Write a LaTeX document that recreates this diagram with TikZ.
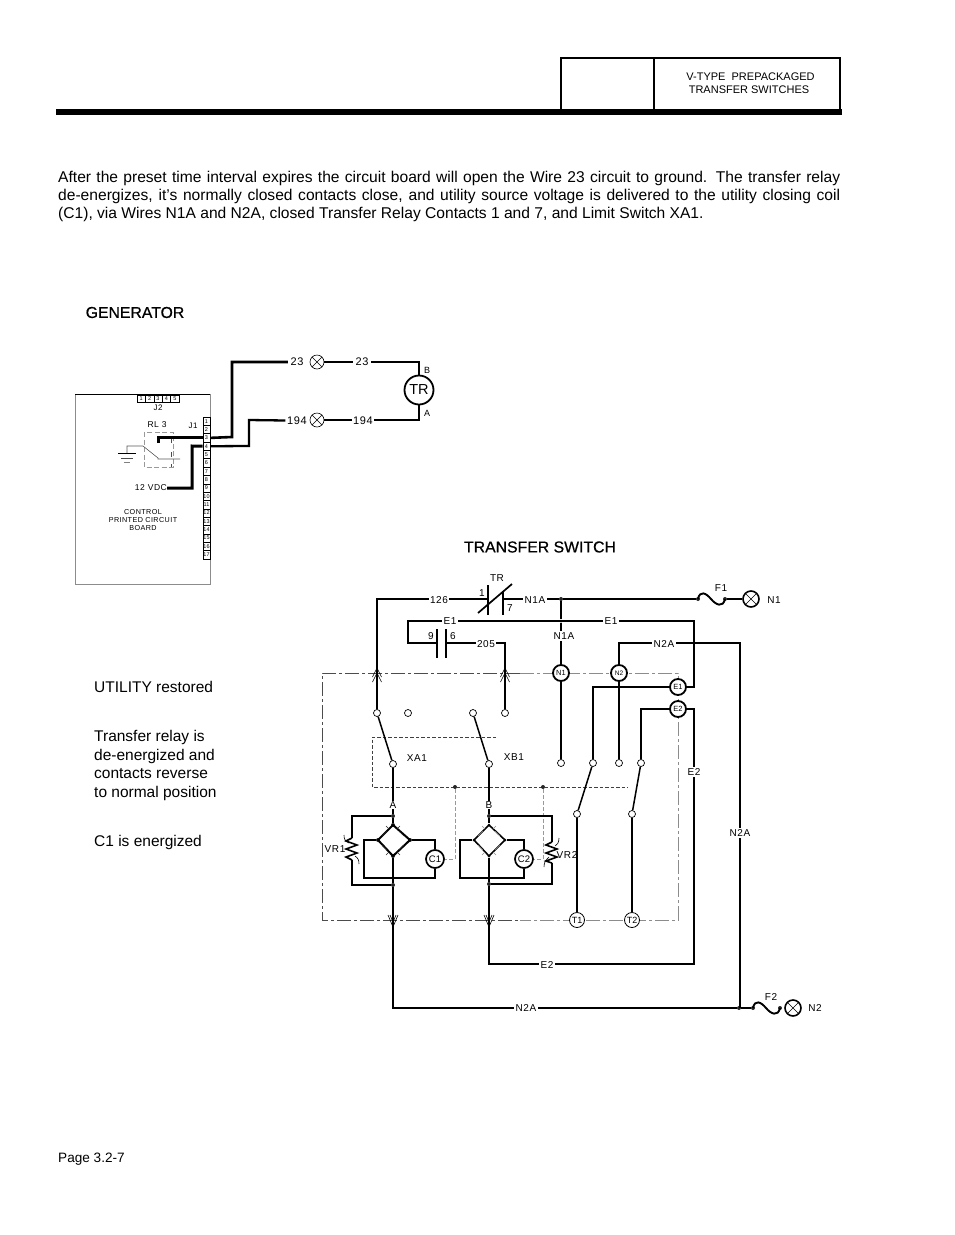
\documentclass[tikz,border=0pt]{standalone}
\usepackage{fontspec}
\setmainfont{Liberation Sans}
\newfontfamily\cad[LetterSpace=6]{Liberation Sans}
\newfontfamily\headf[FakeBold=0.6]{Liberation Sans}
\tikzset{
  wire/.style={line width=1.8pt},
  gwire/.style={line width=2.3pt},
  thinl/.style={line width=.7pt},
  lab/.style={font=\cad\fontsize{10}{10}\selectfont,fill=white,inner sep=1.2pt},
  labn/.style={font=\cad\fontsize{10}{10}\selectfont,inner sep=0pt},
  tiny8/.style={font=\cad\fontsize{8}{8}\selectfont,inner sep=0pt},
  contact/.style={circle,draw,fill=white,minimum size=7pt,inner sep=0pt,line width=.7pt},
  term/.style={circle,draw,fill=white,line width=1.8pt,minimum size=16pt,inner sep=0pt,font=\fontsize{7.5}{8}\selectfont},
  tterm/.style={circle,draw,fill=white,line width=.8pt,minimum size=15pt,inner sep=0pt,font=\fontsize{9}{9}\selectfont},
  jdot/.style={circle,fill=black!85,minimum size=4pt,inner sep=0pt},
  lamp/.style={circle,draw,fill=white,minimum size=#1,inner sep=0pt,path picture={
     \draw[line width=.6pt] (path picture bounding box.north west)--(path picture bounding box.south east)
       (path picture bounding box.north east)--(path picture bounding box.south west);}},
  cell/.style={rectangle,draw,fill=white,line width=.6pt,inner sep=0pt,font=\fontsize{5.5}{6}\selectfont},
  outerdash/.style={line width=.8pt,black!70,dash pattern=on 14pt off 3pt on 3pt off 3pt},
  outergray/.style={line width=.8pt,black!45,dash pattern=on 14pt off 3pt on 3pt off 3pt},
  innerdash/.style={line width=.6pt,black!75,dash pattern=on 3.5pt off 2pt},
  graydash/.style={line width=1pt,black!40,dash pattern=on 3.5pt off 2.5pt},
  head/.style={font=\headf\fontsize{15.8}{16}\selectfont,inner sep=0pt},
  side/.style={font=\fontsize{15.5}{18.6}\selectfont,inner sep=0pt,anchor=base west},
  para/.style={font=\fontsize{15.6}{18}\selectfont,inner sep=0pt,anchor=base west},
  chev/.style={line width=.6pt},
  biglab/.style={lab,font=\cad\fontsize{11}{11}\selectfont},
}
\begin{document}
\begin{tikzpicture}[x=1pt,y=-1pt]
\useasboundingbox (0,0) rectangle (954,1235);
% header
\node[draw,line width=1.4pt,minimum width=93pt,minimum height=52pt,inner sep=0pt] (hb1) at (607.5,84) {};
\node[draw,line width=1.4pt,minimum width=186pt,minimum height=52pt,inner sep=0pt] (hb2) at (747,84) {};
\node[font=\fontsize{11}{13}\selectfont,inner sep=0pt] (ht1) at (750.5,77) {V-TYPE\ \ PREPACKAGED};
\node[font=\fontsize{11}{13}\selectfont,inner sep=0pt] (ht2) at (749,90) {TRANSFER SWITCHES};
\fill (56,109) rectangle (842,115);
% paragraph
\node[para] (p1) at (58,182) {\hbox to 782pt{After the preset time interval expires the circuit board will open the Wire 23 circuit to ground. The transfer relay}};
\node[para] (p2) at (58,200) {\hbox to 782pt{de-energizes, it’s normally closed contacts close, and utility source voltage is delivered to the utility closing coil}};
\node[para] (p3) at (58,218) {(C1), via Wires N1A and N2A, closed Transfer Relay Contacts 1 and 7, and Limit Switch XA1.};
\node[head] (hgen) at (135,312.5) {GENERATOR};
\node[head] (hts) at (540,547) {TRANSFER SWITCH};
\node[side] (s1) at (94,692) {UTILITY restored};
\node[side] (s2) at (94,741) {Transfer relay is};
\node[side] (s3) at (94,760) {de-energized and};
\node[side] (s4) at (94,778.5) {contacts reverse};
\node[side] (s5) at (94,797) {to normal position};
\node[side] (s6) at (94,846) {C1 is energized};
\node[para,font=\fontsize{13.6}{14}\selectfont] (pg) at (58,1162) {Page 3.2-7};

% ===== control board
\draw[line width=.9pt,black!45] (75,394) -- (75,584) -- (210,584) -- (210,394);
\draw[line width=.9pt] (75,394) -- (210,394);
\foreach \i in {1,...,5}{
  \node[cell,minimum width=8.4pt,minimum height=7pt] (j2-\i) at ({137+8.4*(\i-.5)},398.5) {\i};
}
\foreach \i in {1,...,17}{
  \node[cell,minimum width=7pt,minimum height=8.35pt] (j1-\i) at (206.5,{417+8.35*(\i-.5)}) {\i};
}
\node[tiny8] (lj2) at (158,408) {J2};
\node[tiny8] (lj1) at (193,426) {J1};
\node[labn,font=\cad\fontsize{8.5}{9}\selectfont] (lrl) at (157,425) {RL 3};
\node[labn,font=\cad\fontsize{8.5}{9}\selectfont,anchor=east] (l12) at (167,488) {12 VDC};
\node[tiny8,font=\cad\fontsize{7.2}{8.4}\selectfont,align=center,inner sep=0pt] (lctl) at (143,520) {CONTROL\\PRINTED CIRCUIT\\BOARD};
\draw[line width=.8pt,black!40,dash pattern=on 5pt off 2.5pt] (144,432) rectangle (173,467);
\coordinate (gnd) at (127,446);
\draw[line width=.6pt,black!65] (127,453) -- (gnd) -- (143,446) -- (158,458) -- (158,459) -- (180,459);
\draw[line width=.9pt] (118,453) -- (136,453);
\draw[line width=.7pt,black!70] (121,458) -- (133,458);
\draw[line width=.7pt,black!50] (124,462) -- (130,462);
\draw[line width=.7pt,black!70] (171,439) -- +(0,4) (171,452) -- +(0,5) (171,464) -- +(0,3);
% coil and lamps
\node[circle,draw,line width=1.8pt,minimum size=29pt,inner sep=0pt,font=\fontsize{14.5}{15}\selectfont] (tr) at (419,390) {TR};
\node[lamp=14pt,line width=.6pt] (la23) at (317,362) {};
\node[lamp=14pt,line width=.6pt] (la194) at (317,420) {};
\node[labn,font=\cad\fontsize{9}{9}\selectfont] (lb) at (427,370) {B};
\node[labn,font=\cad\fontsize{9}{9}\selectfont] (la) at (427,413) {A};
\node[biglab,inner sep=2.5pt] (l23a) at (297,362) {23};
\node[biglab,inner sep=1.5pt] (l194a) at (297,420.5) {194};
\draw[gwire,line width=3pt] (158,443) |- (j1-3.west);
\draw[gwire,line width=2.6pt] (j1-3.east) -- (232,437) -- (232,362) -- (l23a.west);
\draw[gwire] (la23.east) -- (419,362) -- (tr.north);
\draw[gwire] (tr.south) -- (419,420) -- (la194.east);
\draw[gwire] (l194a.west) -- (249,420) -- (249,446) -- (j1-4.east);
\draw[gwire,line width=3pt] (j1-4.west) -- (192,446) -- (192,488) -- (l12.east);
\node[biglab,inner sep=2.5pt] (l23b) at (362,362) {23};
\node[biglab,inner sep=1.5pt] (l194b) at (363,420.5) {194};

% ===== transfer switch enclosures
\draw[outerdash] (520,673) -- (322,673) -- (322,920) -- (520,920);
\draw[outergray] (520,673) -- (678,673) -- (678,920) -- (520,920);
\draw[innerdash] (496,737) -- (372,737) -- (372,787) -- (628,787);
% contacts
\node[contact] (c1a) at (377,713) {};
\node[contact] (c1b) at (408,713) {};
\node[contact] (c1c) at (473,713) {};
\node[contact] (c1d) at (505,713) {};
\node[contact] (xa) at (393,764) {};
\node[contact] (xb) at (489,764) {};
\node[contact] (c2a) at (561,763) {};
\node[contact] (c2b) at (593,763) {};
\node[contact] (c2c) at (619,763) {};
\node[contact] (c2d) at (641,763) {};
\node[contact] (t1c) at (577,814) {};
\node[contact] (t2c) at (632,814) {};
\node[term] (n1) at (561,673) {N1};
\node[term,font=\fontsize{6.5}{7}\selectfont] (n2) at (619,673) {N2};
\node[term] (e1) at (678,687) {E1};
\node[term] (e2) at (678,709) {E2};
\node[tterm] (t1) at (577,920) {T1};
\node[tterm] (t2) at (632,920) {T2};
\node[jdot] (d1) at (561,599) {};
\node[jdot,minimum size=3pt] (dE) at (561,621) {};
\node[jdot] (fa) at (698,599) {};
\node[jdot] (fb) at (725,599) {};
\node[lamp=16pt,line width=1.6pt] (ln1) at (751,599) {};
\node[jdot] (fc) at (753,1008) {};
\node[jdot] (fd) at (780,1008) {};
\node[lamp=16pt,line width=1.6pt] (ln2) at (793,1008) {};
\node[jdot] (d2) at (739,1008) {};
\node[jdot] (dg1) at (455,787) {};
\node[jdot] (dg2) at (543,787) {};
\node[jdot] (ta) at (393,816) {};
\node[jdot] (tb) at (489,816) {};
\node[jdot] (ba) at (393,885) {};
\node[jdot] (bb) at (489,884) {};
% bridges
\node[jdot] (b1n) at (393,825) {};
\node[jdot] (b1s) at (393,856) {};
\node[jdot] (b1w) at (378,840) {};
\node[jdot] (b1e) at (410,840) {};
\node[jdot,minimum size=3pt] (b2n) at (489,825) {};
\node[jdot,minimum size=3pt] (b2s) at (489,856) {};
\node[jdot,minimum size=3pt] (b2w) at (474,840) {};
\node[jdot,minimum size=3pt] (b2e) at (505,840) {};
\draw[line width=2pt,line join=miter] (b1n.center) -- (b1e.center) -- (b1s.center) -- (b1w.center) -- cycle;
\draw[line width=1.6pt,line join=miter] (b2n.center) -- (b2e.center) -- (b2s.center) -- (b2w.center) -- cycle;
\foreach \cx/\lc in {393/black!85,489/black!45}{
  \draw[line width=.6pt,\lc] (\cx-11,836) -- +(5,-5) (\cx-4,829) -- +(-3,-3)
     (\cx+11,836) -- +(-5,-5) (\cx+4,829) -- +(3,-3)
     (\cx-11,845) -- +(5,5) (\cx-4,852) -- +(-3,3)
     (\cx+11,845) -- +(-5,5) (\cx+4,852) -- +(3,3);
}
\node[circle,draw,fill=white,line width=1.7pt,minimum size=18pt,inner sep=0pt,font=\fontsize{9.5}{10}\selectfont] (coil1) at (435,859) {C1};
\node[circle,draw,fill=white,line width=1.7pt,minimum size=18pt,inner sep=0pt,font=\fontsize{9.5}{10}\selectfont] (coil2) at (524,859) {C2};
% gray control leads
\draw[graydash] (dg1) -- (455,859) -- (coil1.east);
\draw[graydash] (dg2) -- (543,859) -- (coil2.east);
% blades
\draw[line width=1.5pt] (c1a) -- (xa);
\draw[line width=1.5pt] (c1c) -- (xb);
\draw[line width=1.5pt] (c2b) -- (t1c);
\draw[line width=1.5pt] (c2d) -- (t2c);
% contactor symbols
\coordinate (p1a) at (488,599);
\coordinate (p1b) at (503,599);
\draw[wire,line width=1.7pt] (488,585) -- (488,615) (503,591) -- (503,615);
\draw[wire,line width=1.7pt] (478,613) -- (512,584);
\draw[wire,line width=1.9pt] (437,629) -- (437,658) (446,629) -- (446,658);
% wires
\draw[wire] (c1a) -- (377,599) -- (p1a);
\draw[wire] (p1b) -- (d1);
\draw[wire] (d1) -- (fa);
\draw[wire] (d1) -- (dE) -- (n1);
\draw[wire] (n1) -- (c2a);
\draw[wire] (fb) -- (ln1);
\draw[line width=1.9pt] (fa.center) .. controls +(2,-9) and +(-5,-6) .. (711,599) .. controls +(5,6) and +(-2,9) .. (fb.center);
\draw[wire] (442,621) -- (408,621) -- (408,643) -- (437,643);
\draw[wire] (442,621) -- (694,621) -- (694,687) -- (e1);
\draw[wire] (446,643) -- (505,643) -- (c1d);
\draw[wire] (n2) -- (619,643) -- (740,643) -- (740,1008);
\draw[wire] (n2) -- (c2c);
\draw[wire] (e1) -- (593,687) -- (c2b);
\draw[wire] (e2) -- (641,709) -- (c2d);
\draw[wire] (e2) -- (694,709) -- (694,964) -- (489,964) -- (489,927);
\draw[wire] (t1c) -- (t1);
\draw[wire] (t2c) -- (t2);
\draw[wire] (xa) -- (ta) -- (b1n);
\draw[wire] (xb) -- (tb) -- (b2n);
\draw[wire] (ta) -- (352,816) -- (352,838);
\draw[wire] (352,860) -- (352,885) -- (ba);
\draw[wire] (tb) -- (552,816) -- (552,842);
\draw[wire] (552,863) -- (552,884) -- (bb);
\draw[line width=1.9pt] (b1s) -- (ba) -- (393,1008) -- (d2) -- (fc);
\draw[line width=1.8pt] (b2s) -- (bb) -- (489,927);
\draw[line width=1.9pt] (fc.center) .. controls +(2,-9) and +(-5,-6) .. (766,1008) .. controls +(5,6) and +(-2,9) .. (fd.center);
\draw[wire] (b1e) -- (coil1 |- b1e) -- (coil1.north);
\draw[wire] (b1w) -- (364,840) -- (364,878) -- (435,878) -- (coil1.south);
\draw[wire] (b2e) -- (coil2 |- b2e) -- (coil2.north);
\draw[wire] (b2w) -- (460,840) -- (460,878) -- (524,878) -- (coil2.south);
% varistors
\draw[line width=1.6pt,line join=miter] (352,838) -- (346,841) -- (357,845) -- (346,849) -- (357,853) -- (346,857) -- (352,860);
\draw[line width=1.6pt,line join=miter] (552,842) -- (546,845) -- (557,849) -- (546,853) -- (557,857) -- (546,861) -- (552,863);
\draw[line width=.6pt] (344,835) .. controls (344,839) and (345,841) .. (349,843);
\draw[line width=.6pt] (355,856) .. controls (358,858) and (359,860) .. (359,864);
\draw[line width=.6pt] (559,838) .. controls (559,843) and (557,845) .. (555,846);
\draw[line width=.6pt] (549,857) .. controls (546,859) and (544,862) .. (544,867);
% chevrons
\foreach \cx in {377,505}{
  \draw[chev] (\cx-4.5,677) -- (\cx,668) -- (\cx+4.5,677);
  \draw[chev] (\cx-4.5,682) -- (\cx,673) -- (\cx+4.5,682);
}
\foreach \cx in {393,489}{
  \draw[chev] (\cx-5,915) -- (\cx,927) -- (\cx+5,915);
  \draw[chev] (\cx-3,915) -- (\cx,922) -- (\cx+3,915);
}
% wire labels
\node[lab] (w126) at (439,600) {126};
\node[lab] (wn1a) at (535,600) {N1A};
\node[lab] (we1a) at (450,621) {E1};
\node[lab] (w205) at (486,644) {205};
\node[lab] (we1b) at (611,621.5) {E1};
\node[lab] (wn1b) at (564,636) {N1A};
\node[lab] (wn2a) at (664,644) {N2A};
\node[lab] (we2a) at (694,772) {E2};
\node[lab] (we2b) at (547,965) {E2};
\node[lab] (wn2b) at (526,1008) {N2A};
\node[lab] (wn2c) at (740,833) {N2A};
\node[labn] (lf1) at (721,588) {F1};
\node[labn] (lf2) at (771,997) {F2};
\node[labn] (ln1t) at (774,600) {N1};
\node[labn] (ln2t) at (815,1008) {N2};
\node[labn] (ltr) at (497,578) {TR};
\node[labn] (l1) at (482,593) {1};
\node[labn] (l7) at (510,608) {7};
\node[labn] (l9) at (431,636) {9};
\node[labn] (l6) at (453,636) {6};
\node[labn] (lxa) at (417,758) {XA1};
\node[labn] (lxb) at (514,757) {XB1};
\node[lab,inner sep=.8pt] (lA) at (393,805) {A};
\node[lab,inner sep=.8pt] (lB) at (489,805) {B};
\node[labn] (lvr1) at (335,849) {VR1};
\node[labn] (lvr2) at (567,855) {VR2};
\end{tikzpicture}
\end{document}
